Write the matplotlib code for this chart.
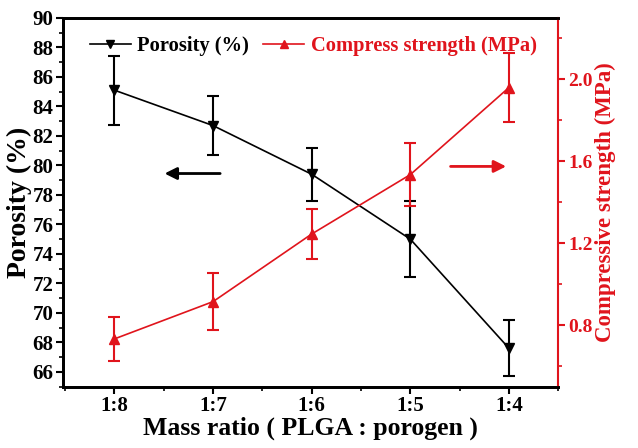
import matplotlib
matplotlib.use("Agg")
import matplotlib.pyplot as plt
from matplotlib.lines import Line2D
from matplotlib.ticker import MultipleLocator

ratios = ["1:8", "1:7", "1:6", "1:5", "1:4"]
porosity = [85.1, 82.7, 79.4, 75.0, 67.6]
porosity_err = [2.35, 2.0, 1.8, 2.6, 1.9]
strength = [0.733, 0.915, 1.245, 1.535, 1.96]
strength_err = [0.108, 0.14, 0.12, 0.155, 0.17]

plt.rcParams["font.family"] = ["Liberation Serif", "DejaVu Serif"]
plt.rcParams["font.weight"] = "bold"

red = "#e0141c"
fig = plt.figure(figsize=(6.38, 4.48), dpi=100)
ax = fig.add_axes([0.099, 0.137, 0.776, 0.823])
ax2 = ax.twinx()

x = list(range(len(ratios)))
ax.errorbar(x, porosity, yerr=porosity_err, color="black", marker="v",
            markersize=7, lw=1.2, elinewidth=1.5, capsize=4, capthick=1.5)
ax2.errorbar(x, strength, yerr=strength_err, color=red, marker="^",
             markersize=7, lw=1.2, elinewidth=1.5, capsize=4, capthick=1.5)

ax.set_xlim(-0.52, 4.5)
ax.set_ylim(65, 90)
ax2.set_ylim(0.5, 2.3)
ax.set_xticks(x)
ax.set_xticklabels(ratios)
ax.xaxis.set_minor_locator(MultipleLocator(0.5))
ax.yaxis.set_major_locator(MultipleLocator(2))
ax.yaxis.set_minor_locator(MultipleLocator(1))
ax2.yaxis.set_minor_locator(MultipleLocator(0.2))
ax2.set_yticks([0.8, 1.2, 1.6, 2.0])

ax.tick_params(axis="both", which="major", direction="out", length=5, width=1.5,
               labelsize=15, pad=2)
ax.tick_params(axis="both", which="minor", direction="out", length=3, width=1.2)
ax2.tick_params(axis="y", which="major", direction="out", length=5, width=1.5,
                labelsize=14, colors=red, pad=2)
ax2.tick_params(axis="y", which="minor", direction="out", length=3, width=1.2,
                colors=red)

for side in ["left", "bottom", "top"]:
    ax.spines[side].set_linewidth(2)
    ax2.spines[side].set_linewidth(2)
ax2.spines["right"].set_color(red)
ax2.spines["right"].set_linewidth(1.5)
ax.spines["right"].set_visible(False)

ax.set_xlabel("Mass ratio ( PLGA : porogen )", fontsize=18.5, fontweight="bold",
              labelpad=0)
ax.set_ylabel("Porosity (%)", fontsize=20, fontweight="bold", labelpad=0)
ax2.set_ylabel("Compressive strength (MPa)", fontsize=16.5, fontweight="bold",
               color=red, labelpad=2)

# direction arrows
ax.annotate("", xy=(0.48, 79.45), xytext=(1.1, 79.45),
            arrowprops=dict(arrowstyle="-|>", color="black", lw=2,
                            mutation_scale=18))
ax2.annotate("", xy=(4.0, 1.575), xytext=(3.38, 1.575),
             arrowprops=dict(arrowstyle="-|>", color=red, lw=2,
                             mutation_scale=18))

h1 = Line2D([], [], color="black", marker="v", markersize=6, lw=1.2)
h2 = Line2D([], [], color=red, marker="^", markersize=6, lw=1.2)
leg = ax.legend([h1, h2], ["Porosity (%)", "Compress strength (MPa)"],
                loc="upper center", bbox_to_anchor=(0.505, 1.0), ncol=2,
                frameon=False, fontsize=14.8, handlelength=2.0,
                columnspacing=0.7, handletextpad=0.3)
leg.get_texts()[1].set_color(red)

fig.savefig("out.png", dpi=100)
